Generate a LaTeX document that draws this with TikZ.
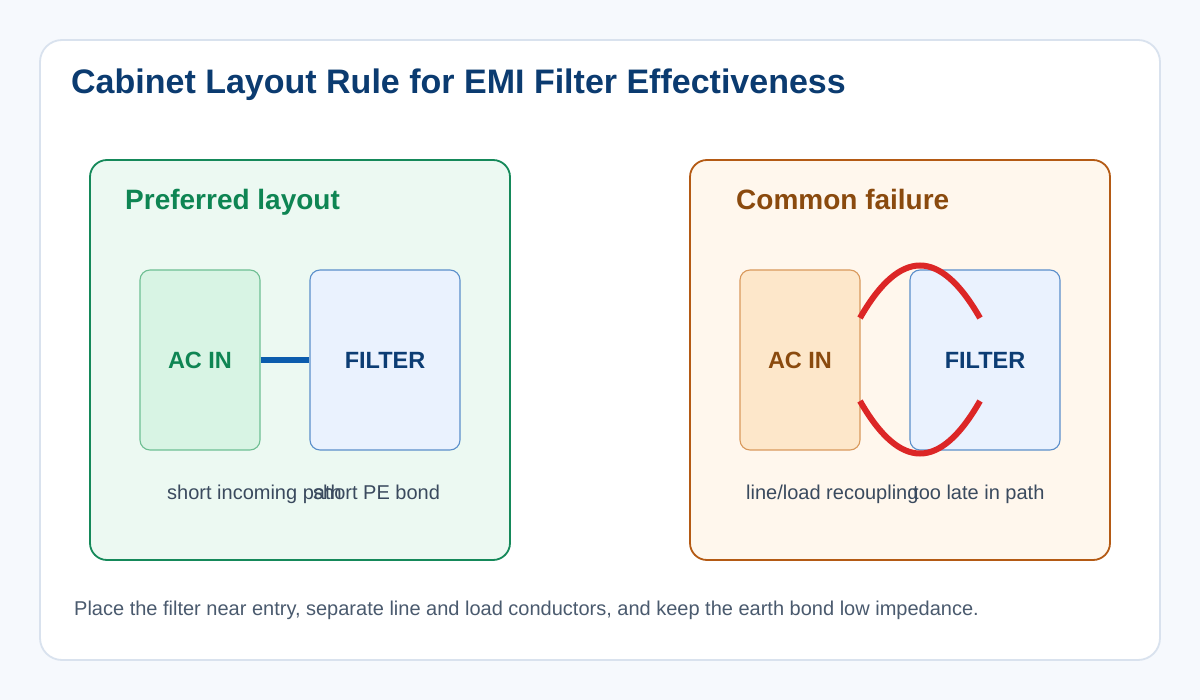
\documentclass[tikz,border=0pt]{standalone}
\usepackage{fontspec}
\setmainfont{Liberation Sans}
\definecolor{bgc}{HTML}{F6F9FD}
\definecolor{cardline}{HTML}{D9E2EE}
\definecolor{titlec}{HTML}{0B3B70}
\definecolor{gpanel}{HTML}{ECF9F2}
\definecolor{gline}{HTML}{15895A}
\definecolor{gtext}{HTML}{0E8553}
\definecolor{gbox}{HTML}{D8F4E4}
\definecolor{gboxline}{HTML}{6EBF93}
\definecolor{opanel}{HTML}{FFF7ED}
\definecolor{oline}{HTML}{B45A14}
\definecolor{otext}{HTML}{8A4A0E}
\definecolor{obox}{HTML}{FDE7CA}
\definecolor{oboxline}{HTML}{D9995C}
\definecolor{bbox}{HTML}{EAF2FE}
\definecolor{bboxline}{HTML}{5B8FCB}
\definecolor{btext}{HTML}{0C3D74}
\definecolor{wire}{HTML}{0B5CAD}
\definecolor{redw}{HTML}{DC2626}
\definecolor{labc}{HTML}{3A4A5E}
\definecolor{footc}{HTML}{4A5A6E}
\tikzset{
  panelbox/.style={draw, line width=1.8pt, rounded corners=17pt, minimum width=420pt, minimum height=400pt, inner sep=0pt},
  unitbox/.style={draw, line width=1.1pt, rounded corners=10pt, minimum height=180pt, inner sep=0pt, font=\fontsize{23.5}{27}\selectfont\bfseries},
  head/.style={anchor=base west, inner sep=0pt, font=\fontsize{28}{33}\selectfont\bfseries},
  smalllab/.style={anchor=base west, inner sep=0pt, text=labc, font=\fontsize{20}{24}\selectfont},
}
\begin{document}
\begin{tikzpicture}[x=1pt,y=-1pt]
\fill[bgc] (0,0) rectangle (1200,700);
\useasboundingbox (0,0) rectangle (1200,700);
\draw[cardline, line width=1.8pt, fill=white, rounded corners=22pt] (40,40) rectangle (1160,660);
\node[anchor=base west, inner sep=0pt, text=titlec, font=\fontsize{34}{40}\selectfont\bfseries] (title) at (71,94) {Cabinet Layout Rule for EMI Filter Effectiveness};
% left panel
\node[panelbox, draw=gline, fill=gpanel] (lp) at (300,360) {};
\node[head, text=gtext] (lh) at (125,210) {Preferred layout};
\node[unitbox, draw=gboxline, fill=gbox, text=gtext, minimum width=120pt] (acl) at (200,360) {AC IN};
\node[unitbox, draw=bboxline, fill=bbox, text=btext, minimum width=150pt] (fl) at (385,360) {FILTER};
\draw[wire, line width=6.5pt] (acl.east) -- (fl.west);
\node[smalllab] (l1) at (167,500) {short incoming path};
\node[smalllab] (l2) at (313,500) {short PE bond};
% right panel
\node[panelbox, draw=oline, fill=opanel] (rp) at (900,360) {};
\node[head, text=otext] (rh) at (736,210) {Common failure};
\node[unitbox, draw=oboxline, fill=obox, text=otext, minimum width=120pt] (acr) at (800,360) {AC IN};
\node[unitbox, draw=bboxline, fill=bbox, text=btext, minimum width=150pt] (fr) at (985,360) {FILTER};
\coordinate (a1) at (860,318);
\coordinate (b1) at (980,318);
\coordinate (a2) at (860,401);
\coordinate (b2) at (980,401);
\draw[redw, line width=6pt] (a1) .. controls (900,248) and (940,248) .. (b1);
\draw[redw, line width=6pt] (a2) .. controls (900,471) and (940,471) .. (b2);
\node[smalllab] (r1) at (746,500) {line/load recoupling};
\node[smalllab] (r2) at (913,500) {too late in path};
% footer
\node[anchor=base west, inner sep=0pt, text=footc, font=\fontsize{20}{24}\selectfont] (foot) at (74,615) {Place the filter near entry, separate line and load conductors, and keep the earth bond low impedance.};
\end{tikzpicture}
\end{document}
